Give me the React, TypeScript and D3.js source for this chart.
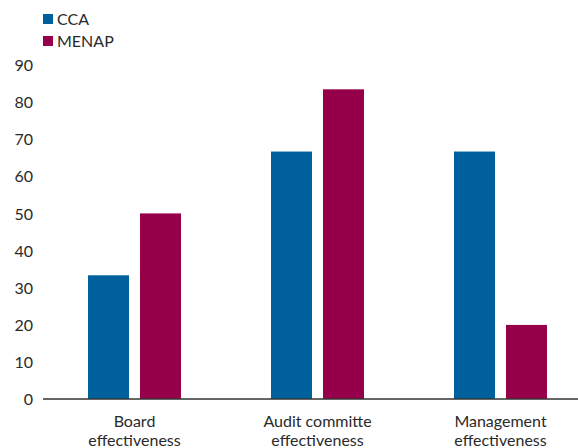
import * as React from "react";
import { scaleBand, scaleLinear } from "d3";

const categories = [
  ["Board", "effectiveness"],
  ["Audit committe", "effectiveness"],
  ["Management", "effectiveness"],
];
const seriesNames = ["CCA", "MENAP"];
const ccaValues = [33.4, 66.8, 66.8];
const menapValues = [50.1, 83.6, 20];
const yTicks = [0, 10, 20, 30, 40, 50, 60, 70, 80, 90];

const colors: Record<string, string> = { CCA: "#00609D", MENAP: "#96004B" };
const font = "Lato, 'Open Sans', sans-serif";

export default function App() {
  const width = 578;
  const height = 448;
  const left = 43;
  const baseY = 399;

  const keys = categories.map((c) => c.join(" "));
  const x0 = scaleBand().domain(keys).range([left, left + 183 * 3]).padding(0);
  const groupW = 93;
  const x1 = scaleBand()
    .domain(seriesNames)
    .range([(x0.step() - groupW) / 2, (x0.step() + groupW) / 2])
    .paddingInner(0.2115);
  const y = scaleLinear().domain([0, 90]).range([baseY, 65.6]);

  const values: Record<string, number[]> = { CCA: ccaValues, MENAP: menapValues };

  return (
    <svg
      width={width}
      height={height}
      style={{ position: "absolute", left: 0, top: 0, fontFamily: font }}
    >
      {/* legend */}
      {seriesNames.map((s, i) => (
        <g key={s} transform={`translate(43,${14 + i * 22})`}>
          <rect width={10} height={10} fill={colors[s]} />
          <text x={14} y={5} dy="0.36em" fontSize={16} fill="#2a2a2a">
            {s}
          </text>
        </g>
      ))}

      {/* y tick labels */}
      {yTicks.map((t) => (
        <text
          key={t}
          x={33}
          y={y(t)}
          dy="0.36em"
          textAnchor="end"
          fontSize={16}
          fill="#2a2a2a"
        >
          {t}
        </text>
      ))}

      {/* bars */}
      {keys.map((k, i) => (
        <g key={k} transform={`translate(${x0(k)},0)`}>
          {seriesNames.map((s) => (
            <rect
              key={s}
              x={x1(s)}
              y={y(values[s][i])}
              width={x1.bandwidth()}
              height={y(0) - y(values[s][i])}
              fill={colors[s]}
            />
          ))}
        </g>
      ))}

      {/* axis line */}
      <line x1={left} x2={width} y1={baseY} y2={baseY} stroke="#333" strokeWidth={1.3} />

      {/* category labels */}
      {keys.map((k, i) => (
        <text
          key={k}
          x={(x0(k) as number) + x0.bandwidth() / 2}
          y={427}
          textAnchor="middle"
          fontSize={16}
          fill="#2a2a2a"
        >
          {categories[i].map((line, j) => (
            <tspan key={j} x={(x0(k) as number) + x0.bandwidth() / 2} dy={j === 0 ? 0 : 19}>
              {line}
            </tspan>
          ))}
        </text>
      ))}
    </svg>
  );
}
